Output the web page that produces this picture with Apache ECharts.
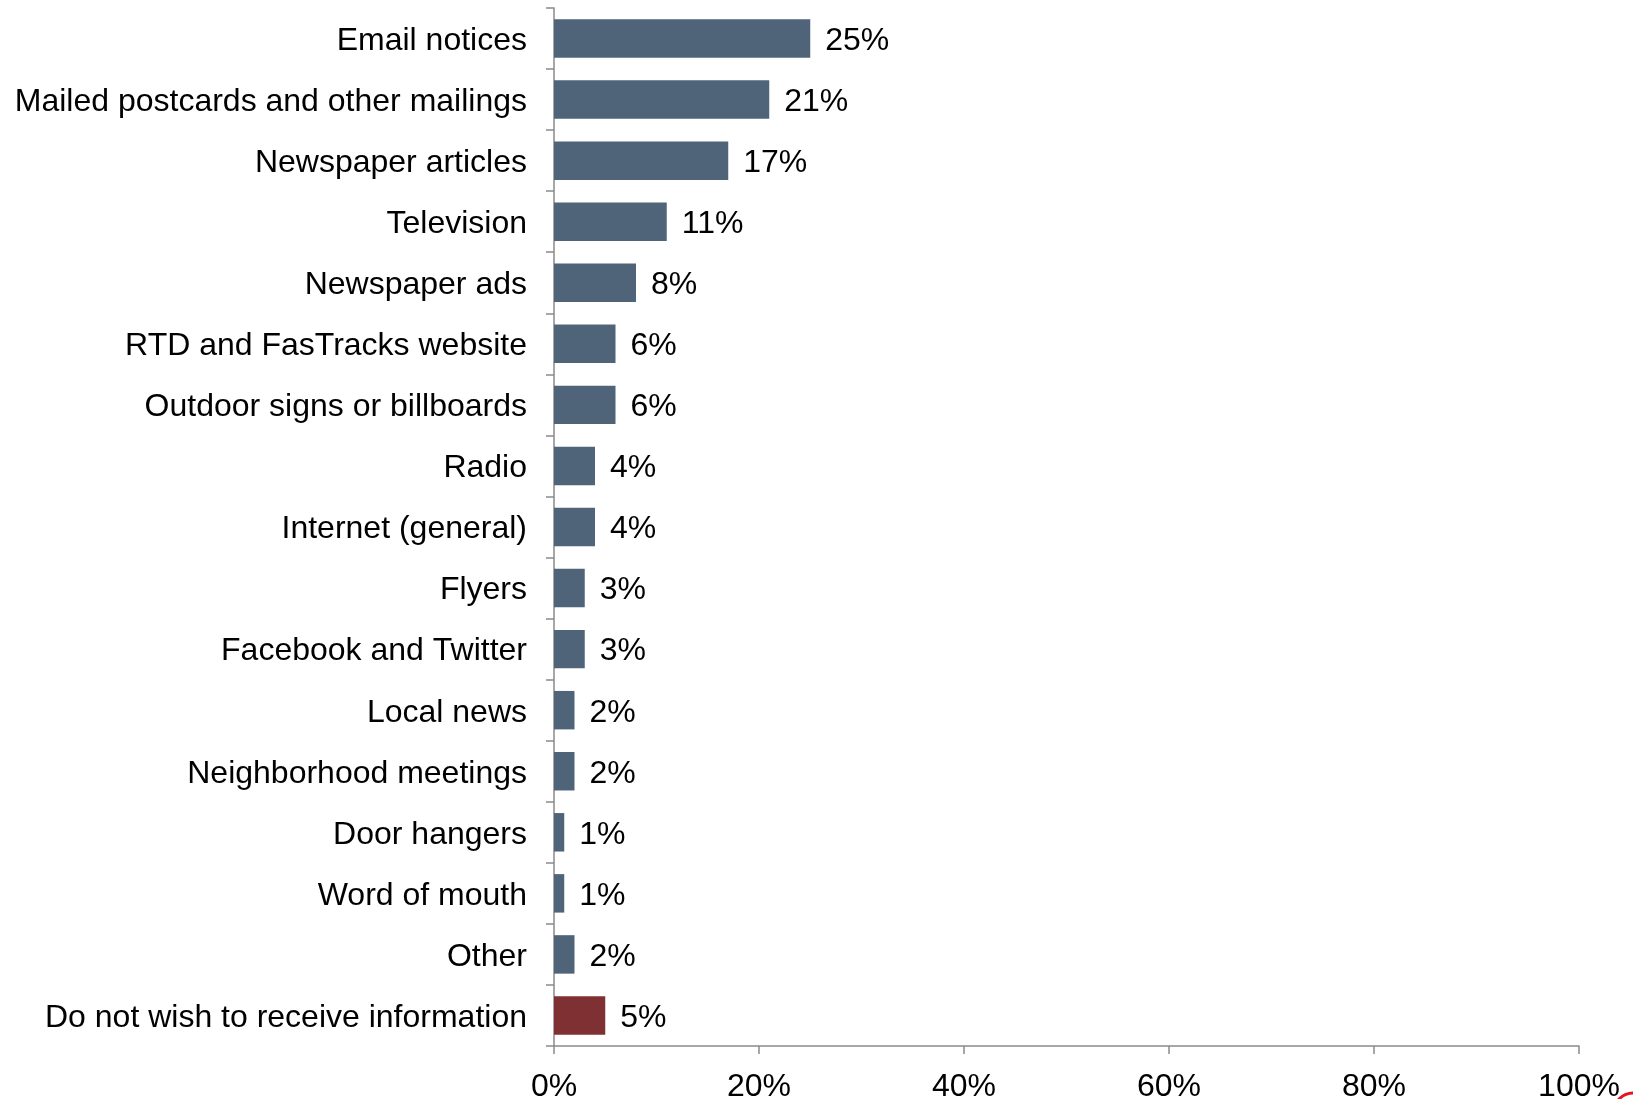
<!DOCTYPE html>
<html>
<head>
<meta charset="utf-8">
<style>
  html, body { margin: 0; padding: 0; background: #ffffff; }
  #chart { width: 1633px; height: 1099px; }
</style>
<script src="https://cdn.jsdelivr.net/npm/echarts@6/dist/echarts.min.js"></script>
</head>
<body>
<div id="chart"></div>
<script>
// Sources of information (share of respondents, %)
const categories = [
  'Email notices',
  'Mailed postcards and other mailings',
  'Newspaper articles',
  'Television',
  'Newspaper ads',
  'RTD and FasTracks website',
  'Outdoor signs or billboards',
  'Radio',
  'Internet (general)',
  'Flyers',
  'Facebook and Twitter',
  'Local news',
  'Neighborhood meetings',
  'Door hangers',
  'Word of mouth',
  'Other',
  'Do not wish to receive information'
];
const values = [25, 21, 17, 11, 8, 6, 6, 4, 4, 3, 3, 2, 2, 1, 1, 2, 5];
const xTicks = [0, 20, 40, 60, 80, 100];

const BLUE = '#4f6479';
const RED = '#7f3033';
const AXIS = '#8a8a8a';
const FONT = '"Liberation Sans", Arial, sans-serif';

// text style that sits a few pixels below the band centre
const lowered = { fontSize: 32, fontFamily: FONT, color: '#000000', padding: [5, 0, 0, 0] };

const barData = values.map((v, i) => ({
  value: v,
  itemStyle: { color: categories[i] === 'Do not wish to receive information' ? RED : BLUE }
}));

const chart = echarts.init(document.getElementById('chart'), null, { renderer: 'canvas' });
chart.setOption({
  animation: false,
  backgroundColor: '#ffffff',
  grid: { left: 554, right: 54, top: 8, bottom: 53, containLabel: false, outerBoundsMode: 'none' },
  xAxis: {
    type: 'value',
    min: xTicks[0],
    max: xTicks[xTicks.length - 1],
    interval: 20,
    axisLine: { show: true, lineStyle: { color: AXIS, width: 1.5 } },
    axisTick: { show: true, length: 8, lineStyle: { color: AXIS, width: 1.5 } },
    splitLine: { show: false },
    axisLabel: {
      margin: 25,
      color: '#000000',
      fontFamily: FONT,
      fontSize: 32,
      formatter: v => v + '%'
    }
  },
  yAxis: {
    type: 'category',
    data: categories,
    inverse: true,
    axisLine: { show: true, lineStyle: { color: AXIS, width: 1.5 } },
    axisTick: { show: true, length: 8, alignWithLabel: false, lineStyle: { color: AXIS, width: 1.5 } },
    axisLabel: {
      margin: 27,
      fontSize: 32,
      fontFamily: FONT,
      formatter: v => '{t|' + v + '}',
      rich: { t: lowered }
    }
  },
  series: [{
    type: 'bar',
    data: barData,
    barCategoryGap: '37%',
    label: {
      show: true,
      position: 'right',
      distance: 15,
      fontSize: 32,
      fontFamily: FONT,
      formatter: p => '{t|' + p.value + '%}',
      rich: { t: lowered }
    }
  }],
  graphic: [{
    type: 'arc',
    shape: { cx: 1633, cy: 1112, r: 19, startAngle: Math.PI, endAngle: Math.PI * 1.6 },
    style: { stroke: '#e8141e', lineWidth: 3, fill: null },
    silent: true
  }]
});
</script>
</body>
</html>
